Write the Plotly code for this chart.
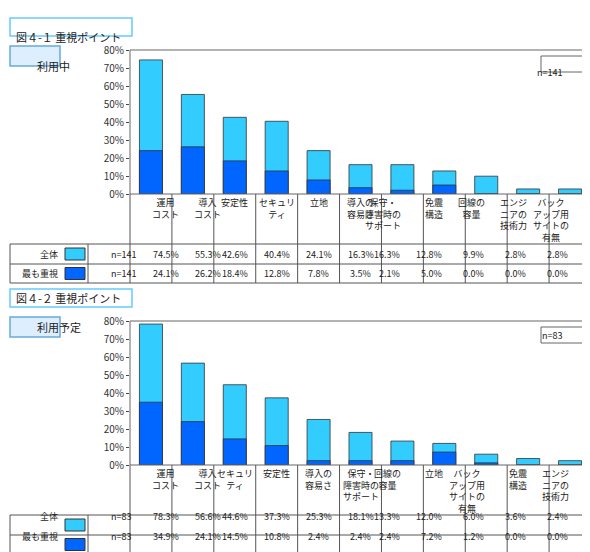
import plotly.graph_objects as go

cats1 = ["運用<br>コスト","導入<br>コスト","安定性","セキュリ<br>ティ","立地","導入の<br>容易さ","保守・<br>障害時の<br>サポート","免震<br>構造","回線の<br>容量","エンジ<br>ニアの<br>技術力","バック<br>アップ用<br>サイトの<br>有無"]
all1 = [74.5,55.3,42.6,40.4,24.1,16.3,16.3,12.8,9.9,2.8,2.8]
top1 = [24.1,26.2,18.4,12.8,7.8,3.5,2.1,5.0,0.0,0.0,0.0]
cats2 = ["運用<br>コスト","導入<br>コスト","セキュリ<br>ティ","安定性","導入の<br>容易さ","保守・<br>障害時の<br>サポート","回線の<br>容量","立地","バック<br>アップ用<br>サイトの<br>有無","免震<br>構造","エンジ<br>ニアの<br>技術力"]
all2 = [78.3,56.6,44.6,37.3,25.3,18.1,13.3,12.0,6.0,3.6,2.4]
top2 = [34.9,24.1,14.5,10.8,2.4,2.4,2.4,7.2,1.2,0.0,0.0]
yticks = [0,10,20,30,40,50,60,70,80]

W, H = 590, 552
LIGHT, DARK = "#33CCFF", "#0066FF"
X0, X1 = 122, 583
FONT = "Noto Sans CJK JP"
FS = 9

def px(x): return x / W
def py(y): return 1 - y / H

fig = go.Figure()
shapes, ann = [], []

def panel(idx, top, cats, alls, tops, title, sub, n):
    ax = "" if idx == 1 else str(idx)
    ptop, pbot = top + 32, top + 176
    fig.add_trace(go.Bar(x=list(range(len(cats))), y=alls, marker=dict(color=LIGHT, line=dict(color="#333", width=0.8)),
                         width=0.55, xaxis="x"+ax, yaxis="y"+ax, showlegend=False))
    fig.add_trace(go.Bar(x=list(range(len(cats))), y=tops, marker=dict(color=DARK, line=dict(color="#333", width=0.8)),
                         width=0.55, xaxis="x"+ax, yaxis="y"+ax, showlegend=False))
    fig.layout["xaxis"+ax] = dict(domain=[px(X0), px(X1)], range=[-0.5, len(cats)-0.5], showticklabels=False,
                                  showgrid=False, zeroline=False, anchor="y"+ax, fixedrange=True, automargin=False)
    fig.layout["yaxis"+ax] = dict(domain=[py(pbot), py(ptop)], range=[0, 80], tickvals=yticks,
                                  ticktext=[f"{v}%" for v in yticks], showgrid=False, zeroline=False,
                                  ticks="outside", ticklen=3, tickfont=dict(size=10, family=FONT, color="#333"),
                                  anchor="x"+ax, fixedrange=True, automargin=False)
    shapes.append(dict(type="rect", xref="paper", yref="paper", x0=px(X0), x1=px(X1), y0=py(pbot), y1=py(ptop),
                       line=dict(color="#666", width=1)))
    shapes.append(dict(type="rect", xref="paper", yref="paper", x0=px(2), x1=px(124), y0=py(top+18), y1=py(top),
                       line=dict(color="#66CCFF", width=1.5), fillcolor="white", layer="below"))
    ann.append(dict(x=px(6), y=py(top+9), xref="paper", yref="paper", text=title, showarrow=False, xanchor="left",
                    font=dict(size=11, family=FONT, color="#222")))
    shapes.append(dict(type="rect", xref="paper", yref="paper", x0=px(2), x1=px(52), y0=py(top+48), y1=py(top+28),
                       line=dict(color="#66AADD", width=1.5), fillcolor="#DDEEFF", layer="below"))
    ann.append(dict(x=px(27), y=py(top+38), xref="paper", yref="paper", text=sub, showarrow=False,
                    font=dict(size=11, family=FONT, color="#222")))
    shapes.append(dict(type="rect", xref="paper", yref="paper", x0=px(533), x1=px(578), y0=py(top+54), y1=py(top+38),
                       line=dict(color="#666", width=1), fillcolor="white"))
    ann.append(dict(x=px(555.5), y=py(top+46), xref="paper", yref="paper", text=f"n={n}", showarrow=False,
                    font=dict(size=FS, family=FONT, color="#222")))
    r0, r1, r2, r3 = pbot, pbot + 50, pbot + 70, pbot + 89
    cw = (X1 - X0) / len(cats)
    L = dict(color="#555", width=1)
    for i in range(len(cats) + 1):
        xx = X0 + i * cw
        shapes.append(dict(type="line", xref="paper", yref="paper", x0=px(xx), x1=px(xx), y0=py(r0), y1=py(r3), line=L))
    for yy in (r1, r2, r3):
        shapes.append(dict(type="line", xref="paper", yref="paper", x0=px(2), x1=px(X1), y0=py(yy), y1=py(yy), line=L))
    for xx in (2, 80):
        shapes.append(dict(type="line", xref="paper", yref="paper", x0=px(xx), x1=px(xx), y0=py(r1), y1=py(r3), line=L))
    for i, c in enumerate(cats):
        cx = X0 + (i + 0.5) * cw
        ann.append(dict(x=px(cx), y=py(r0 + 1), xref="paper", yref="paper", text=c, showarrow=False, yanchor="top",
                        font=dict(size=FS, family=FONT, color="#222"), borderpad=0))
        ann.append(dict(x=px(cx), y=py((r1 + r2) / 2), xref="paper", yref="paper", text=f"{alls[i]:.1f}%",
                        showarrow=False, font=dict(size=FS, family=FONT, color="#222")))
        ann.append(dict(x=px(cx), y=py((r2 + r3) / 2), xref="paper", yref="paper", text=f"{tops[i]:.1f}%",
                        showarrow=False, font=dict(size=FS, family=FONT, color="#222")))
    for (ya, yb, lab, col) in ((r1, r2, "全体", LIGHT), (r2, r3, "最も重視", DARK)):
        ym = (ya + yb) / 2
        ann.append(dict(x=px(52), y=py(ym), xref="paper", yref="paper", text=lab, showarrow=False, xanchor="right",
                        font=dict(size=FS, family=FONT, color="#222")))
        shapes.append(dict(type="rect", xref="paper", yref="paper", x0=px(57), x1=px(77), y0=py(ym + 6), y1=py(ym - 6),
                           fillcolor=col, line=dict(color="#333", width=1)))
        ann.append(dict(x=px(101), y=py(ym), xref="paper", yref="paper", text=f"n={n}", showarrow=False,
                        font=dict(size=FS, family=FONT, color="#222")))

panel(1, 10, cats1, all1, top1, "図４-１ 重視ポイント", "利用中", 141)
panel(2, 281, cats2, all2, top2, "図４-２ 重視ポイント", "利用予定", 83)

fig.update_layout(width=W, height=H, margin=dict(l=0, r=0, t=0, b=0, autoexpand=False), barmode="overlay",
                  plot_bgcolor="white", paper_bgcolor="white", shapes=shapes, annotations=ann)
fig.write_html("out.html")
